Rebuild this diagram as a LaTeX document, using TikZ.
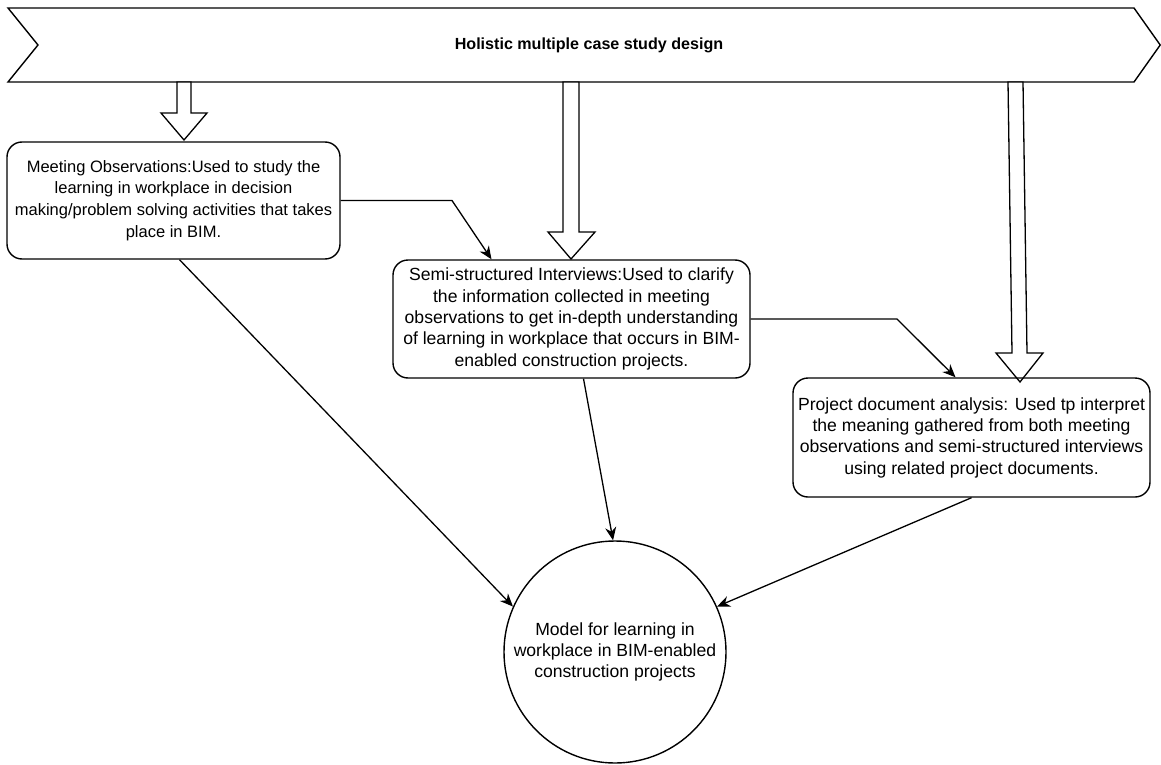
\documentclass[tikz,border=0pt]{standalone}
\usepackage{fontspec}
\setmainfont{Liberation Sans}
\usetikzlibrary{arrows.meta}
\begin{document}
\begin{tikzpicture}[x=1pt,y=-1pt,
  stage/.style={draw, line width=1.4pt, rounded corners=15pt, align=center,
    inner sep=0pt, minimum width=357pt, minimum height=118pt,
    font=\fontsize{17.6}{21.3}\selectfont},
  outcome/.style={draw, circle, line width=1.4pt, minimum size=222pt,
    align=center, inner sep=0pt, font=\fontsize{17.6}{21.3}\selectfont},
  flow/.style={line width=1.3pt, -{Stealth[length=13pt,width=11pt]}},
  blockarrow/.style={draw, line width=1.3pt, fill=white, line join=miter},
  banner/.style={draw, line width=1.4pt, line join=miter}]
\useasboundingbox (0,0) rectangle (1161,765);

% top banner
\draw[banner] (8,8) -- (1134,8) -- (1160.2,45) -- (1134,82) -- (8,82) -- (38,45) -- cycle;
\node[font=\bfseries\fontsize{16.1}{19}\selectfont] (title) at (589,45)
  {Holistic multiple case study design};

% hollow arrows from the banner
\draw[blockarrow] (177,82) -- (177,113) -- (161,113) -- (184,140) -- (207,113) -- (191,113) -- (191,82) -- cycle;
\draw[blockarrow] (563,82) -- (563,232) -- (548,232) -- (571,259) -- (595,232) -- (579,232) -- (579,82) -- cycle;
\draw[blockarrow] (1008,82) -- (1012,353) -- (996,353) -- (1020,382) -- (1043,353) -- (1027,353) -- (1023,82) -- cycle;

% method boxes
\node[stage, minimum width=333pt, minimum height=117pt,
  font=\fontsize{16.5}{21.6}\selectfont] (obs) at (173.5,200.5)
  {Meeting Observations:Used to study the\\learning in workplace in decision\\making/problem solving activities that takes\\place in BIM.};
\node[stage] (int) at (571.5,319)
  {Semi-structured Interviews:Used to clarify\\the information collected in meeting\\observations to get in-depth understanding\\of learning in workplace that occurs in BIM-\\enabled construction projects.};
\node[stage, minimum height=119pt] (doc) at (971.5,437.5)
  {Project document analysis: Used tp interpret\\the meaning gathered from both meeting\\observations and semi-structured interviews\\using related project documents.};

% resulting model
\node[outcome] (model) at (615,652)
  {Model for learning in\\workplace in BIM-enabled\\construction projects};

% connectors
\coordinate (k1) at (452,200.5);
\coordinate (k2) at (897,319);
\draw[flow] (obs.east) -- (k1) -- ([xshift=-80pt]int.north);
\draw[flow] (int.east) -- (k2) -- ([xshift=-16pt]doc.north);
\draw[flow] ([xshift=6pt]obs.south) -- (model.156);
\draw[flow] ([xshift=12pt]int.south) -- (model.91);
\draw[flow] (doc.south) -- (model.24);
\end{tikzpicture}
\end{document}
